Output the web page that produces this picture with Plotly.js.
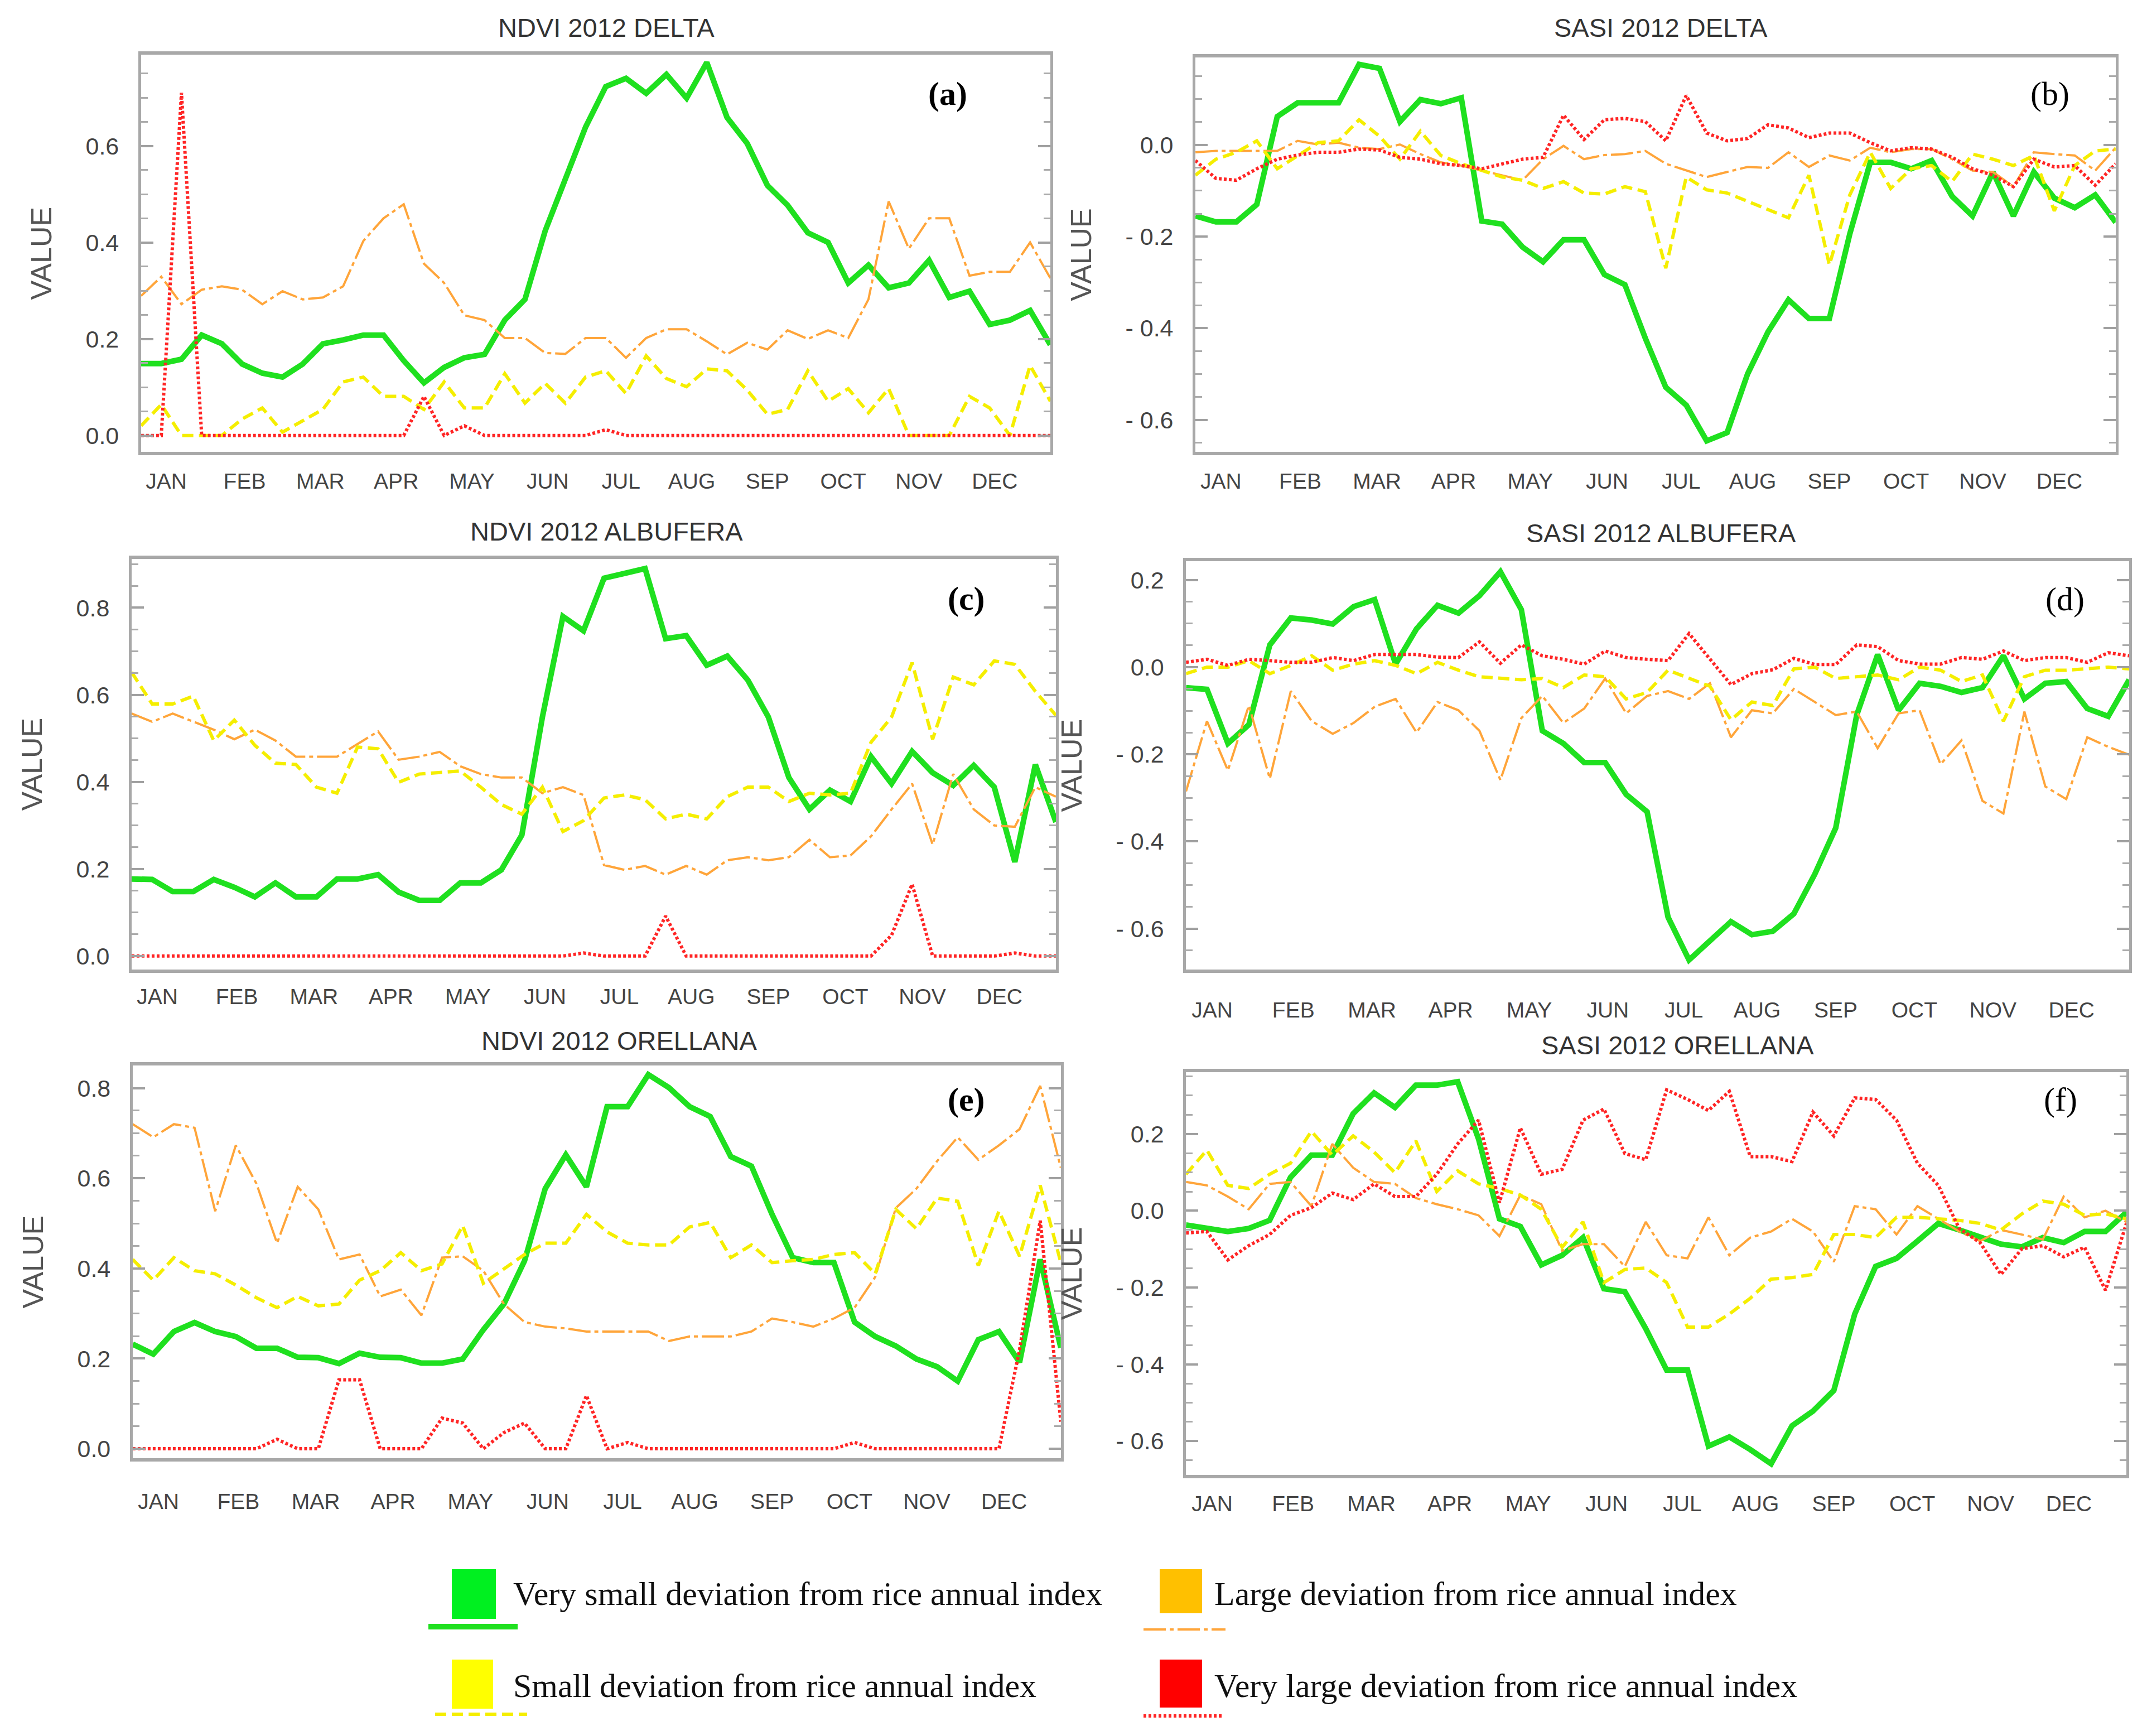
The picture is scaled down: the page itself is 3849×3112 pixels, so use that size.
<!DOCTYPE html>
<html>
<head>
<meta charset="utf-8">
<script src="https://cdn.plot.ly/plotly-3.0.1.min.js"></script>
<style>html,body{margin:0;padding:0;background:#fff;}#chart{width:3849px;height:3112px;}</style>
</head>
<body>
<div id="chart"></div>
<script>
// 8-day composite start days (46 per year)
const compositeDays = [1,9,17,25,33,41,49,57,65,73,81,89,97,105,113,121,129,137,145,153,161,169,177,185,193,201,209,217,225,233,241,249,257,265,273,281,289,297,305,313,321,329,337,345,353,361];
const monthLabels = ['JAN','FEB','MAR','APR','MAY','JUN','JUL','AUG','SEP','OCT','NOV','DEC'];
const monthLabelDays = [11,42,72,102,132,162,191,219,249,279,309,339];

const seriesNames = ['Very small deviation from rice annual index','Large deviation from rice annual index','Small deviation from rice annual index','Very large deviation from rice annual index'];
const panelTitles = ['NDVI 2012 DELTA','SASI 2012 DELTA','NDVI 2012 ALBUFERA','SASI 2012 ALBUFERA','NDVI 2012 ORELLANA','SASI 2012 ORELLANA'];
const panelLetters = ['(a)','(b)','(c)','(d)','(e)','(f)'];

// (a) NDVI 2012 DELTA
const ndviDeltaVerySmall = [0.149,0.149,0.158,0.208,0.19,0.148,0.129,0.121,0.148,0.19,0.198,0.208,0.208,0.155,0.109,0.141,0.161,0.168,0.239,0.282,0.424,0.531,0.639,0.723,0.74,0.709,0.748,0.699,0.773,0.659,0.605,0.518,0.477,0.42,0.40,0.316,0.353,0.306,0.316,0.363,0.286,0.299,0.23,0.239,0.259,0.188];
const ndviDeltaLarge = [0.289,0.329,0.272,0.302,0.309,0.302,0.272,0.299,0.282,0.286,0.309,0.403,0.45,0.479,0.356,0.316,0.249,0.239,0.202,0.202,0.171,0.169,0.202,0.202,0.161,0.202,0.22,0.22,0.195,0.168,0.192,0.178,0.218,0.20,0.218,0.202,0.282,0.485,0.387,0.45,0.45,0.331,0.339,0.339,0.40,0.326];
const ndviDeltaSmall = [0.02,0.064,0,0,0,0.034,0.057,0.007,0.03,0.054,0.111,0.121,0.081,0.081,0.054,0.111,0.057,0.057,0.128,0.067,0.108,0.067,0.121,0.134,0.087,0.165,0.118,0.101,0.138,0.134,0.094,0.044,0.054,0.134,0.071,0.097,0.047,0.097,0,0,0,0.081,0.057,0,0.145,0.071];
const ndviDeltaVeryLarge = [0,0,0.71,0,0,0,0,0,0,0,0,0,0,0,0.081,0,0.02,0,0,0,0,0,0,0.012,0,0,0,0,0,0,0,0,0,0,0,0,0,0,0,0,0,0,0,0,0,0];

// (b) SASI 2012 DELTA
const sasiDeltaVerySmall = [-0.155,-0.168,-0.168,-0.13,0.062,0.092,0.092,0.092,0.176,0.167,0.051,0.099,0.09,0.103,-0.166,-0.173,-0.223,-0.255,-0.207,-0.207,-0.283,-0.305,-0.422,-0.529,-0.568,-0.646,-0.628,-0.50,-0.408,-0.338,-0.379,-0.379,-0.194,-0.038,-0.038,-0.052,-0.034,-0.112,-0.155,-0.059,-0.155,-0.059,-0.116,-0.137,-0.109,-0.169];
const sasiDeltaLarge = [-0.016,-0.013,-0.013,-0.013,-0.013,0.009,0.001,0.005,-0.006,-0.009,0.001,-0.02,-0.038,-0.045,-0.056,-0.066,-0.077,-0.031,-0.002,-0.031,-0.022,-0.02,-0.013,-0.041,-0.056,-0.07,-0.059,-0.048,-0.05,-0.016,-0.048,-0.023,-0.034,-0.006,-0.016,-0.009,-0.009,-0.031,-0.056,-0.059,-0.091,-0.016,-0.02,-0.023,-0.056,-0.006];
const sasiDeltaSmall = [-0.066,-0.031,-0.016,0.009,-0.052,-0.023,0.005,0.009,0.055,0.019,-0.031,0.03,-0.023,-0.041,-0.056,-0.07,-0.077,-0.095,-0.08,-0.105,-0.107,-0.091,-0.102,-0.269,-0.07,-0.098,-0.105,-0.123,-0.141,-0.159,-0.066,-0.262,-0.109,-0.016,-0.095,-0.052,-0.045,-0.08,-0.02,-0.031,-0.045,-0.023,-0.144,-0.045,-0.013,-0.009];
const sasiDeltaVeryLarge = [-0.034,-0.073,-0.077,-0.052,-0.031,-0.022,-0.016,-0.016,-0.009,-0.011,-0.027,-0.031,-0.041,-0.045,-0.052,-0.041,-0.031,-0.027,0.065,0.012,0.055,0.058,0.051,0.009,0.108,0.026,0.009,0.014,0.044,0.037,0.016,0.026,0.026,0.005,-0.013,-0.006,-0.009,-0.027,-0.052,-0.066,-0.091,-0.031,-0.048,-0.045,-0.088,-0.041];

// (c) NDVI 2012 ALBUFERA
const ndviAlbuferaVerySmall = [0.177,0.176,0.148,0.148,0.176,0.158,0.136,0.168,0.136,0.136,0.177,0.177,0.187,0.147,0.128,0.128,0.168,0.168,0.198,0.278,0.549,0.78,0.747,0.868,0.879,0.89,0.729,0.736,0.668,0.689,0.634,0.549,0.41,0.337,0.381,0.355,0.458,0.396,0.47,0.421,0.392,0.438,0.388,0.216,0.44,0.308];
const ndviAlbuferaLarge = [0.557,0.538,0.557,0.538,0.52,0.498,0.52,0.495,0.458,0.458,0.458,0.487,0.516,0.451,0.458,0.469,0.436,0.418,0.41,0.41,0.374,0.388,0.37,0.209,0.198,0.207,0.187,0.207,0.187,0.22,0.227,0.22,0.227,0.267,0.227,0.231,0.275,0.337,0.396,0.256,0.418,0.337,0.30,0.297,0.388,0.366];
const ndviAlbuferaSmall = [0.652,0.579,0.579,0.597,0.495,0.542,0.484,0.443,0.44,0.388,0.374,0.48,0.476,0.399,0.418,0.421,0.425,0.388,0.348,0.326,0.388,0.286,0.311,0.363,0.37,0.359,0.315,0.326,0.315,0.366,0.388,0.388,0.355,0.374,0.37,0.374,0.491,0.549,0.674,0.498,0.641,0.623,0.678,0.67,0.608,0.553];
const ndviAlbuferaVeryLarge = [0,0,0,0,0,0,0,0,0,0,0,0,0,0,0,0,0,0,0,0,0,0,0.007,0,0,0,0.092,0,0,0,0,0,0,0,0,0,0,0.048,0.165,0,0,0,0,0.007,0,0];

// (d) SASI 2012 ALBUFERA
const sasiAlbuferaVerySmall = [-0.047,-0.051,-0.175,-0.132,0.051,0.113,0.108,0.099,0.139,0.155,0.007,0.088,0.142,0.124,0.164,0.219,0.132,-0.146,-0.175,-0.219,-0.219,-0.292,-0.332,-0.574,-0.672,-0.628,-0.584,-0.614,-0.606,-0.566,-0.475,-0.369,-0.11,0.029,-0.099,-0.037,-0.044,-0.058,-0.047,0.026,-0.073,-0.037,-0.033,-0.095,-0.113,-0.029];
const sasiAlbuferaLarge = [-0.285,-0.124,-0.237,-0.088,-0.256,-0.055,-0.124,-0.153,-0.128,-0.091,-0.073,-0.15,-0.08,-0.099,-0.146,-0.259,-0.117,-0.066,-0.128,-0.095,-0.026,-0.106,-0.066,-0.055,-0.073,-0.037,-0.161,-0.099,-0.106,-0.05,-0.08,-0.11,-0.102,-0.186,-0.106,-0.099,-0.223,-0.168,-0.307,-0.336,-0.102,-0.274,-0.303,-0.161,-0.183,-0.201];
const sasiAlbuferaSmall = [-0.015,0,0,0.015,-0.015,0.004,0.026,-0.007,0.007,0.015,0.004,-0.015,0.011,-0.007,-0.022,-0.026,-0.029,-0.026,-0.047,-0.018,-0.022,-0.073,-0.058,-0.007,-0.026,-0.044,-0.121,-0.08,-0.088,-0.004,0,-0.026,-0.022,-0.018,-0.029,0,-0.007,-0.033,-0.018,-0.124,-0.022,-0.007,-0.007,-0.004,0,-0.004];
const sasiAlbuferaVeryLarge = [0.011,0.018,0.004,0.018,0.015,0.011,0.011,0.022,0.015,0.029,0.029,0.029,0.023,0.022,0.058,0.009,0.051,0.026,0.018,0.007,0.037,0.022,0.018,0.015,0.077,0.018,-0.04,-0.015,-0.006,0.02,0.006,0.006,0.051,0.047,0.015,0.007,0.007,0.022,0.018,0.037,0.015,0.022,0.022,0.011,0.033,0.026];

// (e) NDVI 2012 ORELLANA
const ndviOrellanaVerySmall = [0.232,0.21,0.26,0.28,0.26,0.249,0.223,0.223,0.203,0.202,0.189,0.212,0.203,0.202,0.19,0.19,0.199,0.264,0.321,0.417,0.577,0.652,0.581,0.759,0.759,0.83,0.801,0.759,0.737,0.648,0.627,0.52,0.424,0.413,0.413,0.281,0.249,0.228,0.199,0.182,0.15,0.242,0.26,0.192,0.42,0.224];
const ndviOrellanaLarge = [0.72,0.691,0.72,0.712,0.527,0.673,0.588,0.456,0.581,0.531,0.42,0.431,0.338,0.353,0.296,0.424,0.427,0.395,0.321,0.281,0.271,0.267,0.26,0.26,0.26,0.26,0.239,0.249,0.249,0.249,0.26,0.289,0.281,0.271,0.289,0.313,0.381,0.534,0.577,0.638,0.691,0.641,0.673,0.709,0.805,0.623];
const ndviOrellanaSmall = [0.42,0.374,0.424,0.395,0.388,0.363,0.335,0.313,0.338,0.317,0.321,0.374,0.395,0.435,0.395,0.41,0.495,0.367,0.399,0.431,0.456,0.456,0.52,0.481,0.456,0.452,0.452,0.492,0.502,0.424,0.452,0.413,0.417,0.42,0.431,0.435,0.388,0.531,0.488,0.556,0.549,0.406,0.527,0.427,0.584,0.413];
const ndviOrellanaVeryLarge = [0,0,0,0,0,0,0,0.021,0,0,0.153,0.153,0,0,0,0.068,0.057,0,0.036,0.057,0,0,0.118,0,0.014,0,0,0,0,0,0,0,0,0,0,0.014,0,0,0,0,0,0,0,0.22,0.506,0.06];

// (f) SASI 2012 ORELLANA
const sasiOrellanaVerySmall = [-0.037,-0.046,-0.054,-0.046,-0.025,0.087,0.145,0.145,0.253,0.307,0.269,0.327,0.327,0.336,0.187,-0.021,-0.041,-0.141,-0.116,-0.07,-0.203,-0.211,-0.307,-0.415,-0.415,-0.613,-0.589,-0.622,-0.659,-0.56,-0.522,-0.468,-0.269,-0.145,-0.124,-0.079,-0.033,-0.05,-0.07,-0.087,-0.094,-0.07,-0.083,-0.054,-0.054,-0.004];
const sasiOrellanaLarge = [0.075,0.066,0.037,0.004,0.07,0.075,0.012,0.174,0.112,0.075,0.07,0.033,0.017,0.004,-0.012,-0.066,0.041,0.017,-0.104,-0.087,-0.087,-0.145,-0.029,-0.116,-0.124,-0.017,-0.116,-0.07,-0.054,-0.021,-0.054,-0.133,0.012,0.004,-0.062,0.012,-0.021,-0.054,-0.079,-0.05,-0.062,-0.075,0.037,-0.017,0,-0.029];
const sasiOrellanaSmall = [0.095,0.158,0.066,0.058,0.095,0.124,0.207,0.145,0.195,0.153,0.099,0.182,0.05,0.104,0.07,0.058,0.041,0.004,-0.095,-0.029,-0.187,-0.153,-0.149,-0.187,-0.303,-0.303,-0.269,-0.228,-0.178,-0.174,-0.166,-0.062,-0.062,-0.07,-0.017,-0.017,-0.021,-0.025,-0.033,-0.05,-0.008,0.025,0.017,-0.012,-0.008,-0.021];
const sasiOrellanaVeryLarge = [-0.058,-0.054,-0.128,-0.091,-0.062,-0.012,0.008,0.046,0.029,0.07,0.037,0.037,0.095,0.174,0.236,0.021,0.216,0.095,0.108,0.236,0.265,0.149,0.133,0.315,0.29,0.261,0.311,0.141,0.141,0.128,0.257,0.195,0.294,0.29,0.236,0.124,0.066,-0.046,-0.083,-0.166,-0.099,-0.091,-0.12,-0.095,-0.207,-0.033];

const ndviTicks = [0, 0.2, 0.4, 0.6, 0.8];
const sasiTicks = [0.2, 0, -0.2, -0.4, -0.6];

// ---------- layout / styling ----------
const SANS = 'Liberation Sans, Arial, sans-serif';
const SERIF = 'Liberation Serif, Times New Roman, serif';
const lineStyles = [
  {color:'#1fe01f', width:10, dash:'solid'},
  {color:'#ffa53a', width:4, dash:'40px,7px,7px,7px'},
  {color:'#f5ee00', width:6, dash:'20px,10px'},
  {color:'#ff2525', width:6, dash:'5px,4px'}
];

const panels = [
  {series:[ndviDeltaVerySmall, ndviDeltaLarge, ndviDeltaSmall, ndviDeltaVeryLarge], ticks:ndviTicks, xdom:[0.0657,0.4892], ydom:[0.7397,0.9685], yr:[-0.034,0.789], xso:13, bold:true, lab:[0.4414,0.946], tit:[0.2825,0.984]},
  {series:[sasiDeltaVerySmall, sasiDeltaLarge, sasiDeltaSmall, sasiDeltaVeryLarge], ticks:sasiTicks, xdom:[0.5568,0.9854], ydom:[0.7397,0.9669], yr:[-0.67,0.191], xso:13, bold:false, lab:[0.9548,0.946], tit:[0.7737,0.984]},
  {series:[ndviAlbuferaVerySmall, ndviAlbuferaLarge, ndviAlbuferaSmall, ndviAlbuferaVeryLarge], ticks:ndviTicks, xdom:[0.0613,0.4918], ydom:[0.4415,0.678], yr:[-0.031,0.912], xso:9, bold:true, lab:[0.4502,0.6552], tit:[0.2825,0.694]},
  {series:[sasiAlbuferaVerySmall, sasiAlbuferaLarge, sasiAlbuferaSmall, sasiAlbuferaVeryLarge], ticks:sasiTicks, xdom:[0.5524,0.9917], ydom:[0.4415,0.6767], yr:[-0.694,0.243], xso:33, bold:false, lab:[0.9618,0.655], tit:[0.7737,0.693]},
  {series:[ndviOrellanaVerySmall, ndviOrellanaLarge, ndviOrellanaSmall, ndviOrellanaVeryLarge], ticks:ndviTicks, xdom:[0.0618,0.4941], ydom:[0.16,0.3862], yr:[-0.021,0.85], xso:38, bold:true, lab:[0.4502,0.3666], tit:[0.2883,0.4004]},
  {series:[sasiOrellanaVerySmall, sasiOrellanaLarge, sasiOrellanaSmall, sasiOrellanaVeryLarge], ticks:sasiTicks, xdom:[0.5524,0.9904], ydom:[0.1504,0.3824], yr:[-0.688,0.361], xso:12, bold:false, lab:[0.9598,0.3666], tit:[0.7813,0.398]}
];

function fmtTick(v){ return v < 0 ? '- ' + Math.abs(v).toFixed(1) : v.toFixed(1); }

const traces = [];
const layout = {
  width:3849, height:3112, paper_bgcolor:'#fff', plot_bgcolor:'#fff',
  margin:{l:0,r:0,t:0,b:0}, showlegend:false, annotations:[], shapes:[]
};

panels.forEach((p, k) => {
  const sx = k === 0 ? '' : String(k+1);
  p.series.forEach((vals, s) => {
    traces.push({
      type:'scatter', mode:'lines', name:seriesNames[s],
      x:compositeDays, y:vals, xaxis:'x'+sx, yaxis:'y'+sx,
      line:{color:lineStyles[s].color, width:lineStyles[s].width, dash:lineStyles[s].dash},
      hoverinfo:'x+y'
    });
  });
  const tv = p.ticks.filter(v => v >= p.yr[0] && v <= p.yr[1]);
  layout['xaxis'+sx] = {
    domain:p.xdom, anchor:'y'+sx, range:[1,361],
    tickmode:'array', tickvals:monthLabelDays, ticktext:monthLabels,
    ticks:'', showline:true, mirror:true, linecolor:'#a8a8a8', linewidth:6,
    showgrid:false, zeroline:false, ticklabelstandoff:p.xso,
    tickfont:{family:SANS, size:39, color:'#444'}
  };
  layout['yaxis'+sx] = {
    domain:p.ydom, anchor:'x'+sx, range:p.yr,
    tickmode:'array', tickvals:tv, ticktext:tv.map(fmtTick),
    ticks:'inside', ticklen:22, tickwidth:4, tickcolor:'#a0a0a0', mirror:'ticks',
    showline:true, linecolor:'#a8a8a8', linewidth:5,
    minor:{dtick:0.05, ticks:'inside', ticklen:12, tickwidth:3, tickcolor:'#ababab'},
    showgrid:false, zeroline:false, ticklabelstandoff:26,
    tickfont:{family:SANS, size:43, color:'#444'},
    title:{text:'VALUE', font:{family:SANS, size:52, color:'#555'}, standoff:46}
  };
  layout.annotations.push({
    xref:'paper', yref:'paper', x:p.tit[0], y:p.tit[1], xanchor:'center', yanchor:'middle',
    text:panelTitles[k], showarrow:false, font:{family:SANS, size:47, color:'#333'}
  });
  layout.annotations.push({
    xref:'paper', yref:'paper', x:p.lab[0], y:p.lab[1], xanchor:'center', yanchor:'middle',
    text:p.bold ? '<b>'+panelLetters[k]+'</b>' : panelLetters[k], showarrow:false,
    font:{family:SERIF, size:60, color:'#000'}
  });
});

// ---------- custom legend (paper coordinates) ----------
const W = 3849, H = 3112;
const px = v => v / W, py = v => 1 - v / H;
const legendItems = [
  {sq:[810,2813,889,2902], sw:[768,928,2916], tx:[918,2857], fill:'#00f020'},
  {sq:[2079,2813,2155,2892], sw:[2050,2197,2921], tx:[2175,2857], fill:'#ffc000'},
  {sq:[810,2975,884,3063], sw:[780,945,3073], tx:[918,3022], fill:'#ffff00'},
  {sq:[2079,2975,2155,3061], sw:[2050,2192,3076], tx:[2175,3022], fill:'#ff0000'}
];
legendItems.forEach((it, s) => {
  layout.shapes.push({type:'rect', xref:'paper', yref:'paper',
    x0:px(it.sq[0]), x1:px(it.sq[2]), y0:py(it.sq[3]), y1:py(it.sq[1]),
    fillcolor:it.fill, line:{width:0}});
  layout.shapes.push({type:'line', xref:'paper', yref:'paper',
    x0:px(it.sw[0]), x1:px(it.sw[1]), y0:py(it.sw[2]), y1:py(it.sw[2]),
    line:{color:lineStyles[s].color, width:lineStyles[s].width, dash:lineStyles[s].dash}});
  layout.annotations.push({xref:'paper', yref:'paper', x:px(it.tx[0]), y:py(it.tx[1]),
    xanchor:'left', yanchor:'middle', text:seriesNames[s], showarrow:false,
    font:{family:SERIF, size:60, color:'#111'}});
});

Plotly.newPlot('chart', traces, layout, {staticPlot:true, displayModeBar:false});
</script>
</body>
</html>
